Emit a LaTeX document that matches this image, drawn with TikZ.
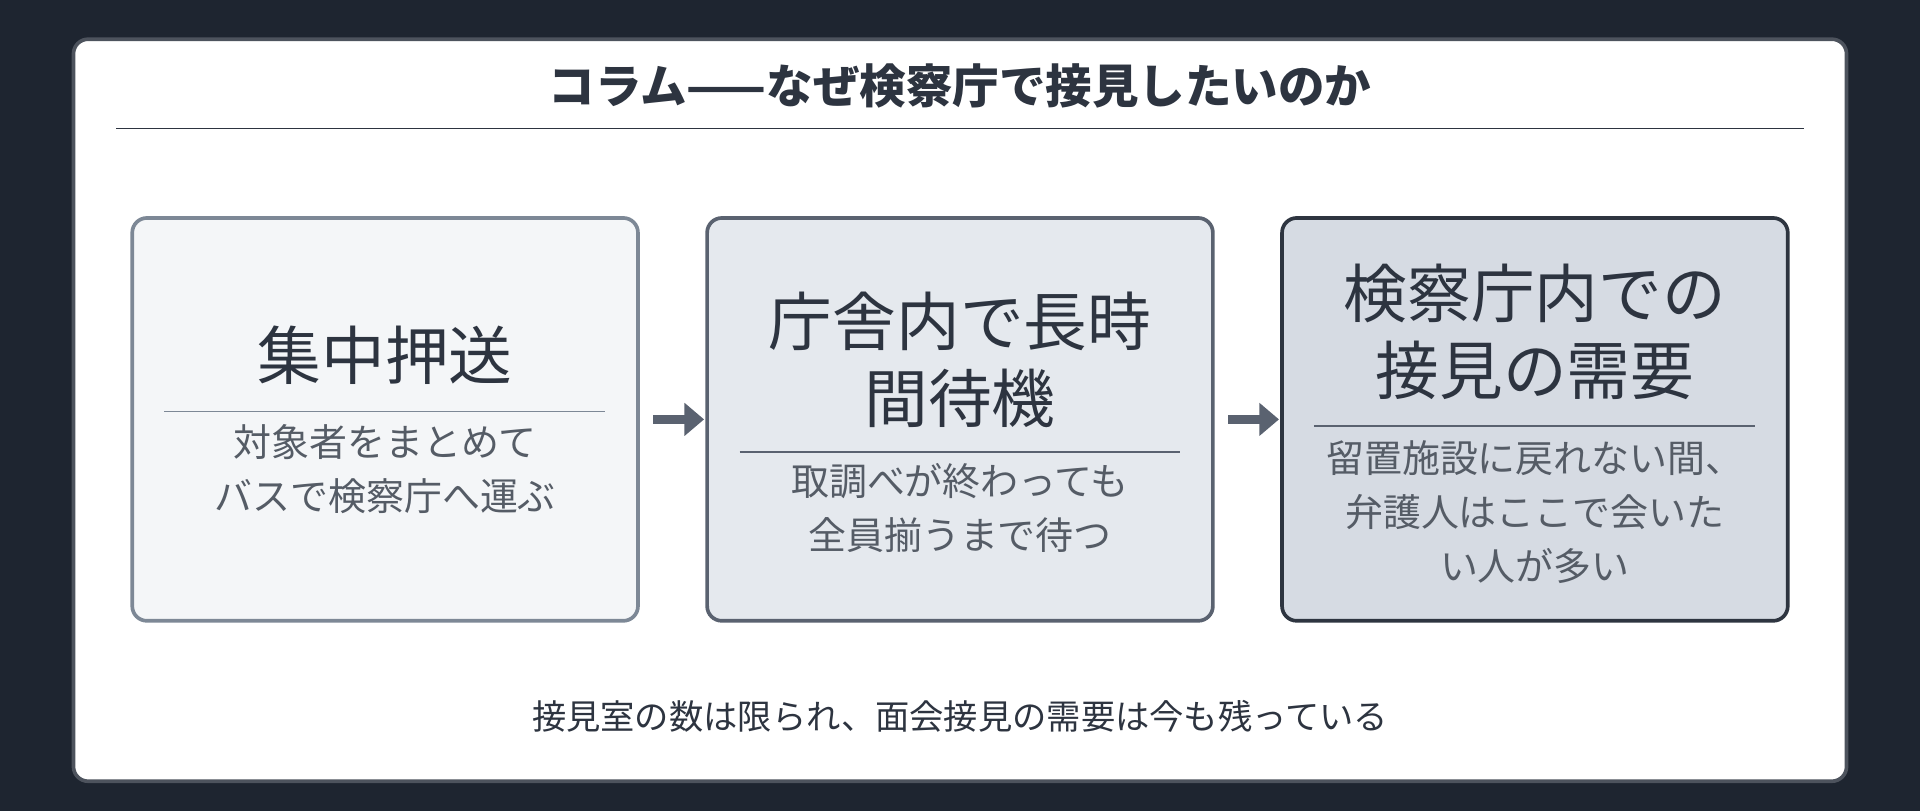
\documentclass[tikz,border=0pt]{standalone}
\usepackage{fontspec}
\setmainfont{Noto Sans CJK JP}
\usetikzlibrary{arrows.meta}
\definecolor{bgdark}{HTML}{1E2530}
\definecolor{ink}{HTML}{2D3440}
\definecolor{subink}{HTML}{555C66}
\definecolor{fillA}{HTML}{F4F6F8}
\definecolor{fillB}{HTML}{E5E9EE}
\definecolor{fillC}{HTML}{D6DBE3}
\definecolor{lineA}{HTML}{7D8896}
\definecolor{lineB}{HTML}{5A6270}
\definecolor{lineC}{HTML}{2E3540}
\tikzset{
  stage/.style={draw, line width=3pt, rounded corners=12pt, minimum width=413pt, minimum height=329pt, inner sep=0pt},
  head/.style={text=ink, font=\fontsize{52}{63}\selectfont, align=center, inner sep=0pt},
  note/.style={text=subink, font=\fontsize{31}{44}\selectfont, align=center, inner sep=0pt},
  flowarrow/.style={-{Triangle[length=16pt,width=26pt]}, line width=7pt, draw=lineB, shorten <=11pt, shorten >=1pt},
}
\begin{document}
\begin{tikzpicture}[x=1pt,y=1pt]
\fill[bgdark] (0,0) rectangle (1568,-662);
\useasboundingbox (0,0) rectangle (1568,-662);
\draw[fill=white, draw=lineC!85, line width=3pt, rounded corners=12pt] (60,-32) rectangle (1508,-638);
\node[text=ink, font=\bfseries\fontsize{38}{40}\selectfont] (title) at (784,-70) {コラム——なぜ検察庁で接見したいのか};
\draw[ink, line width=1.5pt] (95,-105) -- (1473,-105);

% stage 1
\node[stage, fill=fillA, draw=lineA] (s1) at (314.5,-342.5) {};
\node[head] (h1) at (314.5,-290) {集中押送};
\draw[lineA, line width=1.5pt] (134,-336) -- (494,-336);
\node[note] (n1) at (314.5,-383) {対象者をまとめて\\バスで検察庁へ運ぶ};

% stage 2
\node[stage, fill=fillB, draw=lineB] (s2) at (784,-342.5) {};
\node[head] (h2) at (784,-294) {庁舎内で長時\\間待機};
\draw[lineB, line width=1.5pt] (604,-369) -- (964,-369);
\node[note] (n2) at (784,-415) {取調べが終わっても\\全員揃うまで待つ};

% stage 3
\node[stage, fill=fillC, draw=lineC] (s3) at (1253.5,-342.5) {};
\node[head] (h3) at (1253.5,-271) {検察庁内での\\接見の需要};
\draw[lineB, line width=1.5pt] (1073,-348) -- (1433,-348);
\node[note] (n3) at (1253.5,-418) {留置施設に戻れない間、\\弁護人はここで会いた\\い人が多い};

\draw[flowarrow] (s1.east) -- (s2.west);
\draw[flowarrow] (s2.east) -- (s3.west);

\node[text=ink, font=\fontsize{28}{30}\selectfont] (foot) at (784,-585) {接見室の数は限られ、面会接見の需要は今も残っている};
\end{tikzpicture}
\end{document}
